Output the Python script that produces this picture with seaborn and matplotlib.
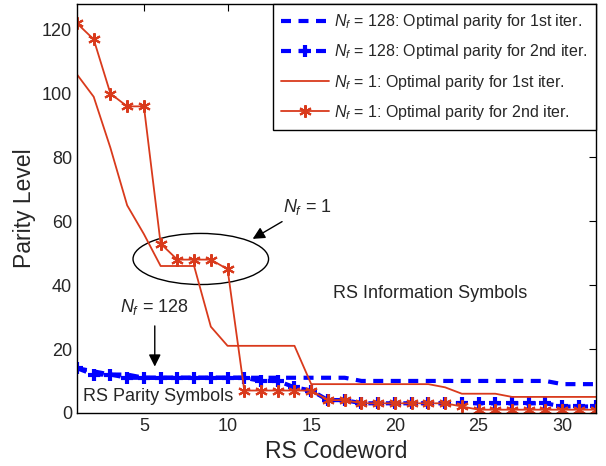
import numpy as np
import pandas as pd
import matplotlib
matplotlib.use('Agg')
import matplotlib.pyplot as plt
import seaborn as sns
from matplotlib.patches import Ellipse

codeword = list(range(1, 33))

# N_f = 128
nf128_iter1 = [14, 13, 12, 12, 11, 11, 11, 11, 11, 11, 11, 11, 11, 11, 11, 11, 11,
               10, 10, 10, 10, 10, 10, 10, 10, 10, 10, 10, 10, 9, 9, 9]
nf128_iter2 = [14, 12, 12, 11, 11, 11, 11, 11, 11, 11, 11, 10, 10, 8, 7, 4, 4,
               3, 3, 3, 3, 3, 3, 3, 3, 3, 3, 3, 3, 2, 2, 2]
# N_f = 1
nf1_iter1 = [106, 99, 83, 65, 56, 46, 46, 46, 27, 21, 21, 21, 21, 21, 9, 9, 9,
             9, 9, 9, 9, 9, 8, 6, 6, 6, 5, 5, 5, 5, 5, 5]
nf1_iter2 = [122, 117, 100, 96, 96, 53, 48, 48, 48, 45, 7, 7, 7, 7, 7, 4, 4,
             3, 3, 3, 3, 3, 3, 2, 1, 1, 1, 1, 1, 1, 1, 1]

labels = [r'$N_f$ = 128: Optimal parity for 1st iter.',
          r'$N_f$ = 128: Optimal parity for 2nd iter.',
          r'$N_f$ = 1: Optimal parity for 1st iter.',
          r'$N_f$ = 1: Optimal parity for 2nd iter.']

sns.set_style('white')
plt.rcParams['font.family'] = ['Liberation Sans', 'DejaVu Sans']
plt.rcParams['mathtext.fontset'] = 'custom'
plt.rcParams['mathtext.rm'] = 'Liberation Sans'
plt.rcParams['mathtext.it'] = 'Liberation Sans:italic'

blue = '#0000ff'
red = '#d93a1c'

fig = plt.figure(figsize=(6.06, 4.66), dpi=100)
ax = fig.add_axes([0.127, 0.114, 0.856, 0.877])

sns.lineplot(x=codeword, y=nf128_iter1, ax=ax, color=blue, lw=3,
             linestyle=(0, (2.4, 1.8)), label=labels[0])
sns.lineplot(x=codeword, y=nf128_iter2, ax=ax, color=blue, lw=3,
             linestyle=(0, (2.4, 1.8)), marker='+', markersize=9, mew=3,
             mec=blue, label=labels[1])
sns.lineplot(x=codeword, y=nf1_iter1, ax=ax, color=red, lw=1.3, label=labels[2])
sns.lineplot(x=codeword, y=nf1_iter2, ax=ax, color=red, lw=1.3,
             marker=(6, 2, 0), markersize=9, mew=1.5, mec=red, label=labels[3])

ax.set_xlim(1, 32)
ax.set_ylim(0, 128)
ax.set_xticks([5, 10, 15, 20, 25, 30])
ax.set_yticks([0, 20, 40, 60, 80, 100, 120])
ax.tick_params(direction='in', top=True, right=True, length=5, labelsize=13,
               color='black')
for s in ax.spines.values():
    s.set_color('black')
    s.set_linewidth(1)
ax.set_xlabel('RS Codeword', fontsize=16.5, labelpad=4)
ax.set_ylabel('Parity Level', fontsize=16.5, labelpad=4)

# annotations
ax.add_patch(Ellipse((8.4, 48.2), 8.1, 16, fill=False, edgecolor='black', lw=1))
ax.annotate(r'$N_f$ = 1', xy=(11.5, 54.5), xytext=(13.3, 64.5), fontsize=13,
            va='center', ha='left',
            arrowprops=dict(arrowstyle='-|>', color='black', lw=1,
                            mutation_scale=18, shrinkA=2, shrinkB=0))
ax.annotate(r'$N_f$ = 128', xy=(5.65, 14.5), xytext=(5.65, 30), fontsize=13,
            va='bottom', ha='center',
            arrowprops=dict(arrowstyle='-|>', color='black', lw=1,
                            mutation_scale=18, shrinkA=4, shrinkB=0))
ax.text(1.35, 5, 'RS Parity Symbols', fontsize=13, va='center', ha='left')
ax.text(16.3, 37.3, 'RS Information Symbols', fontsize=13, va='center', ha='left')

leg = ax.legend(loc='upper right', fontsize=11.5, frameon=True, fancybox=False,
                edgecolor='black', framealpha=1, borderaxespad=0,
                handlelength=3, labelspacing=0.7, handletextpad=0.3,
                borderpad=0.5)
leg.get_frame().set_linewidth(1)

fig.savefig('out.png', dpi=100)
